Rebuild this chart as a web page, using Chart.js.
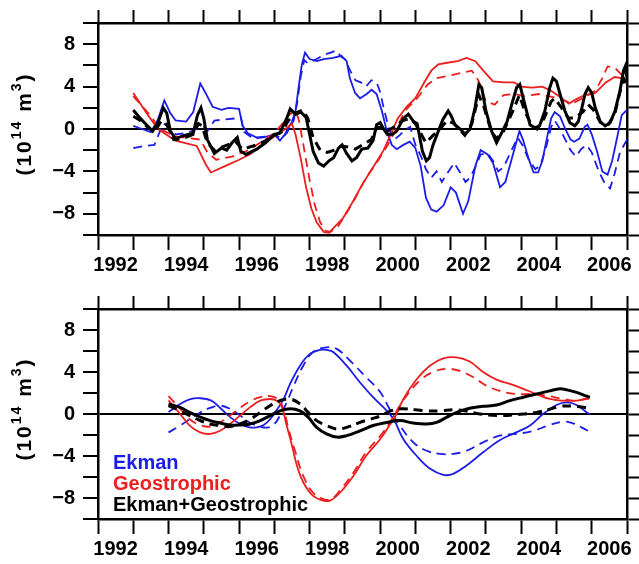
<!DOCTYPE html>
<html>
<head>
<meta charset="utf-8">
<script src="https://cdn.jsdelivr.net/npm/chart.js@4.4.1/dist/chart.umd.min.js"></script>
<style>
  html, body { margin: 0; padding: 0; background: #fff; }
  canvas { display: block; }
</style>
</head>
<body>
<canvas id="topChart" width="639" height="282"></canvas>
<canvas id="bottomChart" width="639" height="282"></canvas>
<script>
// ---- data: [year, 10^14 m^3] ----
const ekmanRaw = [[1993.0,0.3],[1993.25,0.0],[1993.5,-0.3],[1993.7,0.9],[1993.88,2.7],[1994.05,1.5],[1994.2,0.8],[1994.5,0.7],[1994.7,1.6],[1994.9,4.3],[1995.05,3.4],[1995.25,2.1],[1995.5,1.8],[1995.7,2.0],[1996.0,1.9],[1996.1,0.3],[1996.25,-0.4],[1996.5,-0.8],[1996.8,-0.7],[1997.0,-0.5],[1997.16,-1.1],[1997.3,-0.5],[1997.4,0.1],[1997.5,0.7],[1997.6,1.7],[1997.7,4.2],[1997.78,6.1],[1997.87,7.2],[1998.0,6.6],[1998.2,6.4],[1998.4,6.6],[1998.67,6.7],[1998.9,6.9],[1999.05,6.4],[1999.14,4.8],[1999.29,3.4],[1999.43,2.9],[1999.62,3.3],[1999.76,3.7],[1999.9,3.3],[2000.05,1.7],[2000.19,-0.2],[2000.33,-1.5],[2000.47,-1.9],[2000.66,-1.5],[2000.84,-1.2],[2001.0,-1.8],[2001.15,-3.5],[2001.3,-6.5],[2001.45,-7.6],[2001.6,-7.8],[2001.8,-7.2],[2002.0,-5.5],[2002.15,-6.0],[2002.35,-8.0],[2002.5,-6.8],[2002.7,-3.5],[2002.85,-2.0],[2003.05,-2.4],[2003.2,-3.2],[2003.4,-5.5],[2003.55,-5.0],[2003.75,-2.6],[2003.95,-0.2],[2004.05,-1.0],[2004.2,-2.7],[2004.35,-4.1],[2004.48,-4.1],[2004.6,-3.0],[2004.72,-1.0],[2004.85,1.0],[2004.95,1.6],[2005.1,1.2],[2005.25,0.0],[2005.4,-1.0],[2005.5,-1.2],[2005.65,-0.9],[2005.8,0.2],[2005.88,0.4],[2006.0,-0.5],[2006.15,-2.1],[2006.3,-4.0],[2006.45,-4.3],[2006.58,-3.0],[2006.72,-0.8],[2006.85,1.3],[2007.0,1.8]];
const ekmanRawB = [[1993.0,-1.8],[1993.3,-1.6],[1993.6,-1.5],[1993.72,-0.5],[1993.85,0.5],[1994.0,0.3],[1994.2,-0.5],[1994.5,-0.4],[1994.8,0.0],[1995.0,0.2],[1995.1,-0.2],[1995.3,0.8],[1995.6,0.9],[1995.9,1.0],[1996.05,1.1],[1996.15,-0.3],[1996.4,-0.9],[1996.7,-0.8],[1997.0,-0.5],[1997.2,-0.9],[1997.35,-0.4],[1997.55,0.8],[1997.65,2.5],[1997.75,5.0],[1997.85,6.5],[1997.95,6.2],[1998.2,6.6],[1998.4,7.0],[1998.6,7.2],[1998.75,7.4],[1998.9,6.8],[1999.0,6.6],[1999.15,5.5],[1999.3,4.6],[1999.45,4.4],[1999.6,4.0],[1999.75,4.6],[1999.9,4.4],[2000.0,3.5],[2000.1,2.0],[2000.25,0.0],[2000.4,-1.0],[2000.55,-0.6],[2000.7,-0.1],[2000.85,0.2],[2001.0,-1.5],[2001.15,-2.5],[2001.3,-3.8],[2001.45,-4.6],[2001.6,-4.0],[2001.75,-5.0],[2001.9,-4.2],[2002.1,-3.2],[2002.25,-4.0],[2002.42,-5.0],[2002.55,-4.6],[2002.7,-3.6],[2002.85,-2.4],[2003.05,-2.3],[2003.2,-3.0],[2003.35,-4.0],[2003.5,-3.6],[2003.7,-2.2],[2003.9,-0.8],[2004.05,-1.6],[2004.2,-2.8],[2004.4,-3.8],[2004.55,-3.4],[2004.7,-1.8],[2004.85,0.2],[2004.95,0.8],[2005.1,0.0],[2005.25,-1.0],[2005.4,-2.0],[2005.55,-2.6],[2005.7,-1.9],[2005.85,-1.5],[2006.0,-2.2],[2006.2,-4.0],[2006.38,-5.2],[2006.52,-5.6],[2006.65,-4.2],[2006.8,-2.2],[2007.0,-1.0]];
const geoRaw = [[1993.0,3.4],[1993.4,1.4],[1993.7,0.0],[1994.2,-1.1],[1994.8,-1.6],[1995.05,-3.3],[1995.2,-4.1],[1995.6,-3.5],[1996.0,-2.9],[1996.3,-2.4],[1996.7,-1.4],[1997.0,-0.7],[1997.35,0.1],[1997.5,0.5],[1997.6,-0.5],[1997.75,-2.8],[1997.9,-5.5],[1998.05,-7.5],[1998.2,-8.8],[1998.4,-9.7],[1998.55,-9.8],[1998.75,-9.1],[1998.95,-8.4],[1999.2,-7.0],[1999.5,-5.2],[1999.8,-3.6],[2000.1,-2.0],[2000.3,-0.5],[2000.5,1.0],[2000.75,2.1],[2001.0,2.9],[2001.27,4.5],[2001.45,5.5],[2001.65,6.1],[2001.9,6.25],[2002.2,6.4],[2002.45,6.7],[2002.7,6.4],[2002.9,5.6],[2003.2,4.5],[2003.5,4.4],[2003.8,4.4],[2004.0,4.0],[2004.3,3.9],[2004.6,4.0],[2004.85,3.6],[2005.15,2.9],[2005.35,2.4],[2005.55,2.8],[2005.8,3.2],[2006.1,3.4],[2006.4,4.4],[2006.65,4.9],[2006.85,4.8],[2007.0,4.3]];
const geoRawB = [[1993.0,3.1],[1993.5,1.2],[1993.75,0.0],[1994.2,-0.7],[1994.9,-1.0],[1995.1,-2.2],[1995.35,-2.9],[1995.8,-2.6],[1996.2,-2.1],[1996.6,-1.3],[1997.0,-0.4],[1997.2,0.4],[1997.4,1.3],[1997.6,1.7],[1997.7,0.8],[1997.85,-2.0],[1998.0,-4.8],[1998.15,-7.2],[1998.3,-8.8],[1998.45,-9.6],[1998.6,-9.7],[1998.8,-9.2],[1999.0,-8.2],[1999.3,-6.5],[1999.6,-4.6],[1999.9,-3.2],[2000.2,-1.6],[2000.5,0.3],[2000.7,1.7],[2001.05,2.9],[2001.35,4.2],[2001.6,4.8],[2001.9,5.0],[2002.3,5.3],[2002.6,5.5],[2002.8,4.5],[2003.0,2.6],[2003.25,2.3],[2003.5,3.2],[2003.8,3.3],[2004.1,3.1],[2004.5,3.3],[2004.9,3.0],[2005.2,2.7],[2005.45,2.4],[2005.8,3.0],[2006.1,3.6],[2006.3,4.8],[2006.45,5.9],[2006.65,5.8],[2006.85,5.1],[2007.0,4.4]];
const sumRaw = [[1993.0,1.8],[1993.2,1.0],[1993.4,0.3],[1993.55,-0.2],[1993.7,0.6],[1993.85,2.0],[1993.95,1.5],[1994.05,-0.2],[1994.2,-0.9],[1994.45,-0.6],[1994.7,-0.4],[1994.82,1.3],[1994.92,2.0],[1995.0,1.0],[1995.1,-1.0],[1995.3,-2.3],[1995.5,-1.8],[1995.65,-2.0],[1995.8,-1.3],[1995.95,-0.8],[1996.05,-2.1],[1996.2,-2.4],[1996.5,-1.9],[1996.75,-1.3],[1997.0,-0.5],[1997.15,-0.4],[1997.35,1.0],[1997.45,1.9],[1997.6,1.4],[1997.75,1.6],[1997.9,1.1],[1998.0,-0.5],[1998.1,-2.1],[1998.25,-3.2],[1998.4,-3.5],[1998.55,-3.0],[1998.68,-2.7],[1998.82,-1.8],[1998.92,-1.5],[1999.05,-2.3],[1999.2,-3.0],[1999.33,-2.7],[1999.48,-1.9],[1999.65,-1.8],[1999.8,-1.1],[1999.9,0.4],[2000.0,0.6],[2000.1,0.0],[2000.2,-0.5],[2000.35,-0.5],[2000.47,-0.2],[2000.66,1.0],[2000.8,1.4],[2000.95,0.7],[2001.05,0.5],[2001.2,-2.1],[2001.31,-3.0],[2001.4,-2.7],[2001.5,-1.5],[2001.65,-0.2],[2001.78,0.9],[2001.93,1.7],[2002.02,1.2],[2002.12,0.4],[2002.27,0.0],[2002.41,-0.5],[2002.55,0.0],[2002.69,2.0],[2002.8,4.2],[2002.88,3.9],[2003.0,1.7],[2003.16,-0.2],[2003.3,-1.3],[2003.44,-0.4],[2003.6,0.7],[2003.73,2.3],[2003.87,3.9],[2003.96,4.2],[2004.05,3.0],[2004.15,1.7],[2004.25,0.4],[2004.39,0.1],[2004.52,0.3],[2004.67,1.7],[2004.81,3.9],[2004.9,4.8],[2005.0,4.5],[2005.1,3.3],[2005.24,1.7],[2005.38,0.6],[2005.52,0.3],[2005.62,0.7],[2005.72,2.0],[2005.81,3.3],[2005.9,3.9],[2006.0,3.4],[2006.1,2.0],[2006.24,0.7],[2006.38,0.3],[2006.52,0.6],[2006.66,1.7],[2006.8,3.6],[2006.9,5.5],[2006.95,5.9],[2007.0,4.8]];
const sumRawB = [[1993.0,1.2],[1993.2,0.8],[1993.4,0.2],[1993.6,-0.3],[1993.8,0.8],[1993.95,0.4],[1994.15,-1.0],[1994.4,-0.9],[1994.7,-0.5],[1994.85,0.5],[1994.95,0.3],[1995.1,-1.3],[1995.3,-2.0],[1995.6,-1.6],[1995.9,-1.2],[1996.1,-1.9],[1996.4,-1.6],[1996.7,-1.2],[1997.0,-0.6],[1997.2,-0.3],[1997.4,0.8],[1997.6,1.5],[1997.8,1.8],[1997.95,1.0],[1998.1,-0.8],[1998.3,-2.0],[1998.5,-2.2],[1998.7,-2.0],[1998.9,-1.6],[1999.1,-1.7],[1999.3,-1.9],[1999.5,-1.5],[1999.75,-1.0],[1999.9,0.1],[2000.05,0.2],[2000.2,-0.2],[2000.45,0.3],[2000.65,0.8],[2000.85,1.0],[2001.0,0.5],[2001.15,-0.4],[2001.3,-1.3],[2001.5,-0.6],[2001.7,0.0],[2001.9,0.8],[2002.1,0.5],[2002.4,-0.6],[2002.6,0.5],[2002.8,3.2],[2002.95,2.0],[2003.15,-0.2],[2003.3,-0.9],[2003.5,-0.2],[2003.75,1.6],[2003.95,3.2],[2004.1,1.7],[2004.3,0.3],[2004.45,0.0],[2004.65,1.0],[2004.85,2.6],[2004.95,2.9],[2005.1,2.2],[2005.35,1.0],[2005.55,1.1],[2005.75,1.6],[2005.9,2.3],[2006.05,1.8],[2006.25,0.6],[2006.45,0.3],[2006.65,1.4],[2006.8,3.5],[2006.92,4.7],[2007.0,4.3]];

// low-passed versions (lower panel)
const ekmanLow = [[1994.0,0.2],[1994.33,0.95],[1994.6,1.4],[1994.9,1.5],[1995.2,1.3],[1995.46,0.6],[1995.75,-0.3],[1996.03,-0.95],[1996.3,-1.27],[1996.5,-1.27],[1996.7,-1.05],[1996.88,-0.5],[1997.05,0.3],[1997.26,1.4],[1997.45,2.9],[1997.73,4.6],[1998.0,5.7],[1998.29,6.1],[1998.5,6.1],[1998.67,5.9],[1999.05,4.6],[1999.43,3.0],[1999.8,1.6],[2000.19,0.3],[2000.4,-0.6],[2000.66,-2.4],[2001.04,-4.0],[2001.41,-5.2],[2001.79,-5.8],[2002.07,-5.7],[2002.45,-4.9],[2002.92,-3.65],[2003.39,-2.5],[2003.86,-1.75],[2004.25,-1.1],[2004.62,0.0],[2005.0,0.86],[2005.29,1.1],[2005.57,0.86],[2005.86,0.15],[2005.95,0.0]];
const ekmanLowB = [[1994.0,-1.75],[1994.33,-1.1],[1994.6,-0.5],[1994.9,0.15],[1995.2,0.6],[1995.46,0.8],[1995.74,0.5],[1996.03,-0.15],[1996.3,-0.8],[1996.5,-1.1],[1996.8,-1.3],[1997.0,-0.95],[1997.16,-0.15],[1997.35,1.1],[1997.55,2.7],[1997.82,4.6],[1998.1,5.9],[1998.48,6.35],[1998.77,6.2],[1999.14,5.1],[1999.6,3.5],[2000.0,2.1],[2000.28,0.4],[2000.56,-1.1],[2000.94,-2.7],[2001.32,-3.5],[2001.7,-3.8],[2002.07,-3.8],[2002.45,-3.5],[2002.92,-2.7],[2003.39,-2.06],[2003.86,-1.9],[2004.34,-1.6],[2004.81,-1.05],[2005.19,-0.73],[2005.45,-0.86],[2005.71,-1.27],[2005.95,-1.7]];
const geoLow = [[1994.0,1.3],[1994.33,0.0],[1994.6,-1.1],[1994.9,-1.75],[1995.18,-1.9],[1995.46,-1.6],[1995.74,-0.95],[1996.03,-0.15],[1996.31,0.63],[1996.6,1.27],[1996.88,1.43],[1997.07,1.27],[1997.2,0.8],[1997.35,-1.1],[1997.5,-3.0],[1997.64,-4.9],[1997.82,-6.5],[1998.1,-7.8],[1998.39,-8.25],[1998.58,-8.25],[1998.86,-7.5],[1999.24,-5.9],[1999.6,-4.0],[2000.0,-2.4],[2000.28,-1.0],[2000.45,-0.1],[2000.66,1.43],[2001.04,3.33],[2001.41,4.6],[2001.79,5.3],[2002.17,5.4],[2002.54,5.0],[2002.92,4.0],[2003.3,3.27],[2003.68,2.86],[2004.06,2.4],[2004.43,1.9],[2004.81,1.43],[2005.19,1.27],[2005.57,1.27],[2005.86,1.5],[2005.95,1.6]];
const geoLowB = [[1994.0,1.7],[1994.33,0.5],[1994.6,-0.5],[1994.9,-1.05],[1995.18,-1.2],[1995.46,-0.8],[1995.74,-0.15],[1996.03,0.6],[1996.31,1.2],[1996.6,1.6],[1996.88,1.7],[1997.1,1.4],[1997.26,0.5],[1997.4,-1.4],[1997.6,-3.65],[1997.82,-5.9],[1998.1,-7.5],[1998.39,-8.1],[1998.62,-8.1],[1998.9,-7.1],[1999.24,-5.6],[1999.6,-3.65],[2000.0,-2.1],[2000.28,-0.8],[2000.47,0.3],[2000.75,1.75],[2001.13,3.2],[2001.5,4.0],[2001.89,4.3],[2002.26,4.1],[2002.64,3.5],[2003.01,2.7],[2003.39,2.2],[2003.86,1.9],[2004.34,1.9],[2004.71,1.75],[2005.19,1.43],[2005.57,1.27],[2005.86,1.43],[2005.95,1.5]];
const sumLow = [[1994.0,0.95],[1994.33,0.63],[1994.6,0.15],[1994.9,-0.3],[1995.18,-0.63],[1995.46,-0.86],[1995.74,-1.05],[1996.03,-1.05],[1996.31,-0.95],[1996.6,-0.63],[1996.88,-0.15],[1997.16,0.3],[1997.45,0.5],[1997.73,0.3],[1997.96,-0.3],[1998.2,-1.27],[1998.48,-1.9],[1998.77,-2.2],[1999.05,-2.06],[1999.43,-1.6],[1999.8,-1.1],[2000.19,-0.8],[2000.56,-0.63],[2000.94,-0.86],[2001.32,-0.95],[2001.6,-0.8],[2001.89,-0.3],[2002.17,0.15],[2002.54,0.55],[2002.92,0.73],[2003.3,0.86],[2003.68,1.27],[2004.06,1.6],[2004.43,1.9],[2004.81,2.2],[2005.1,2.4],[2005.3,2.3],[2005.57,2.06],[2005.86,1.7],[2005.95,1.6]];
const sumLowB = [[1994.0,0.8],[1994.33,0.3],[1994.6,-0.15],[1994.9,-0.63],[1995.18,-0.95],[1995.46,-1.1],[1995.74,-1.2],[1996.03,-0.95],[1996.31,-0.5],[1996.6,0.15],[1996.88,0.8],[1997.16,1.27],[1997.45,1.43],[1997.73,0.95],[1997.96,0.15],[1998.2,-0.63],[1998.48,-1.1],[1998.77,-1.43],[1999.05,-1.27],[1999.43,-0.8],[1999.71,-0.5],[2000.0,-0.2],[2000.3,0.3],[2000.6,0.5],[2001.0,0.4],[2001.32,0.3],[2001.7,0.3],[2002.1,0.4],[2002.4,0.3],[2002.83,0.0],[2003.39,-0.15],[2003.9,-0.05],[2004.43,0.15],[2004.81,0.45],[2005.1,0.73],[2005.45,0.75],[2005.95,0.55]];

const legendNames = ['Ekman', 'Geostrophic', 'Ekman+Geostrophic'];

const BLUE = 'rgb(28,28,232)';
const RED = 'rgb(236,30,30)';
const BLACK = '#000';
const FONT = '"Liberation Sans", Arial, Helvetica, sans-serif';

Chart.defaults.font.family = FONT;
Chart.defaults.font.size = 20;
Chart.defaults.font.weight = 'bold';
Chart.defaults.color = '#000';

const pts = arr => arr.map(p => ({ x: p[0], y: p[1] }));
const minus = v => (v < 0 ? '\u2212' + Math.abs(v) : String(v));

// y title with superscripts + optional legend
const decorations = {
  id: 'decorations',
  afterDraw(chart, args, opts) {
    const ctx = chart.ctx;
    const area = chart.chartArea;
    const parts = [['(10', 21, 0], ['14', 14, -8], [' m', 21, 0], ['3', 14, -8], [')', 21, 0]];
    ctx.save();
    ctx.fillStyle = '#000';
    ctx.textBaseline = 'middle';
    ctx.letterSpacing = '2px';
    let total = 0;
    parts.forEach(p => { ctx.font = 'bold ' + p[1] + 'px ' + FONT; total += ctx.measureText(p[0]).width; });
    ctx.translate(25, (area.top + area.bottom) / 2 - 5);
    ctx.rotate(-Math.PI / 2);
    let x = -total / 2;
    parts.forEach(p => {
      ctx.font = 'bold ' + p[1] + 'px ' + FONT;
      ctx.fillText(p[0], x, p[2]);
      x += ctx.measureText(p[0]).width;
    });
    ctx.restore();

    if (opts.legend) {
      ctx.save();
      ctx.font = 'bold 20px ' + FONT;
      ctx.textBaseline = 'middle';
      const colors = [BLUE, RED, BLACK];
      legendNames.forEach((name, i) => {
        ctx.fillStyle = colors[i];
        ctx.fillText(name, area.left + 15, area.top + 154 + i * 21);
      });
      ctx.restore();
    }
  }
};

function series(data, color, dashed, width, order, tension) {
  return {
    data: pts(data),
    borderColor: color,
    borderWidth: width,
    borderDash: dashed ? [9, 6] : [],
    pointRadius: 0,
    fill: false,
    tension: tension,
    order: order
  };
}

function buildChart(id, datasets, topH, bottomH, legend) {
  const tickGrid = len => ({ drawOnChartArea: false, drawTicks: true, tickLength: len, tickWidth: 2, tickColor: '#000' });
  const border = { color: '#000', width: 2.5 };
  new Chart(document.getElementById(id), {
    type: 'line',
    data: { datasets: datasets },
    options: {
      responsive: false,
      animation: false,
      layout: { padding: 0 },
      plugins: {
        legend: { display: false },
        tooltip: { enabled: false },
        decorations: { legend: legend }
      },
      scales: {
        x: {
          type: 'linear', position: 'bottom', min: 1992, max: 2007,
          border: border,
          grid: tickGrid(15),
          ticks: {
            stepSize: 1, autoSkip: false, maxRotation: 0, padding: 3, labelOffset: 17.6,
            callback: v => (v % 2 === 0 && v < 2007 ? String(v) : '')
          },
          afterFit: s => { s.height = bottomH; }
        },
        xTop: {
          type: 'linear', position: 'top', min: 1992, max: 2007,
          border: border,
          grid: tickGrid(13),
          ticks: { stepSize: 1, autoSkip: false, callback: () => '' },
          afterFit: s => { s.height = topH; }
        },
        y: {
          type: 'linear', position: 'left', min: -10, max: 10,
          border: border,
          grid: {
            drawOnChartArea: true, drawTicks: true, tickLength: 15, tickWidth: 2, tickColor: '#000',
            lineWidth: 2,
            color: c => (c.tick && c.tick.value === 0 ? '#000' : 'rgba(0,0,0,0)')
          },
          ticks: {
            stepSize: 2, padding: 8, autoSkip: false,
            callback: v => (v % 4 === 0 && Math.abs(v) < 10 ? minus(v) : '')
          },
          afterFit: s => { s.width = 98; }
        },
        yRight: {
          type: 'linear', position: 'right', min: -10, max: 10,
          border: border,
          grid: tickGrid(12),
          ticks: { stepSize: 2, autoSkip: false, callback: () => '' },
          afterFit: s => { s.width = 12; }
        }
      }
    },
    plugins: [decorations]
  });
}

buildChart('topChart', [
  series(sumRaw, BLACK, false, 3, 0, 0),
  series(sumRawB, BLACK, true, 3, 1, 0),
  series(geoRaw, RED, false, 1.8, 2, 0),
  series(geoRawB, RED, true, 1.8, 3, 0),
  series(ekmanRaw, BLUE, false, 1.8, 4, 0),
  series(ekmanRawB, BLUE, true, 1.8, 5, 0)
], 23, 47, false);

buildChart('bottomChart', [
  series(sumLow, BLACK, false, 3, 0, 0.4),
  series(sumLowB, BLACK, true, 3, 1, 0.4),
  series(geoLow, RED, false, 1.8, 2, 0.4),
  series(geoLowB, RED, true, 1.8, 3, 0.4),
  series(ekmanLow, BLUE, false, 1.8, 4, 0.4),
  series(ekmanLowB, BLUE, true, 1.8, 5, 0.4)
], 27, 45, true);
</script>
</body>
</html>
